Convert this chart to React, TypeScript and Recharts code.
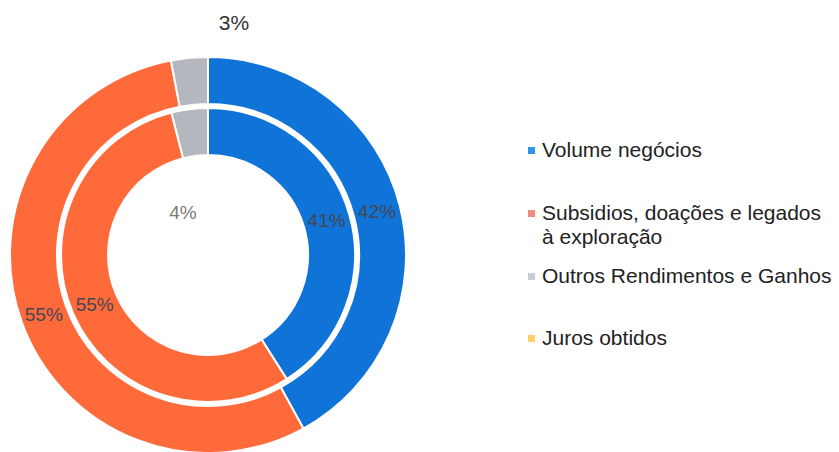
import { PieChart, Pie, Cell } from 'recharts';

const categories = ['Volume negócios', 'Subsidios, doações e legados à exploração', 'Outros Rendimentos e Ganhos', 'Juros obtidos'];
const outerValues = [42, 55, 3, 0];
const innerValues = [41, 55, 4, 0];
const legendLines = [['Volume negócios'], ['Subsidios, doações e legados', 'à exploração'], ['Outros Rendimentos e Ganhos'], ['Juros obtidos']];

const sliceColors = ['#0F73D8', '#FF6A3A', '#B5B7BE', '#FFC94F'];
const legendColors = ['#2E95E8', '#F28B82', '#C9CDD6', '#FFD268'];

const outerData = categories.map((name, i) => ({ name, value: outerValues[i] }));
const innerData = categories.map((name, i) => ({ name, value: innerValues[i] }));

const RAD = Math.PI / 180;
const FONT = '"Liberation Sans", Arial, sans-serif';

function makeLabel(ring: 'outer' | 'inner') {
    return (props: any) => {
        const { cx, cy, midAngle, innerRadius, outerRadius, value } = props;
        if (!value) return null;
        // small slices: Excel moved these labels by hand
        if (value < 5) {
            if (ring === 'outer') {
                return (
                    <text x={cx + 26} y={cy - 233} textAnchor="middle" dominantBaseline="central"
                        fontSize={21} fill="#333" fontFamily={FONT}>{`${value}%`}</text>
                );
            }
            return (
                <text x={cx - 25} y={cy - 43} textAnchor="middle" dominantBaseline="central"
                    fontSize={19} fill="#7a7a7a" fontFamily={FONT}>{`${value}%`}</text>
            );
        }
        const r = (innerRadius + outerRadius) / 2;
        const x = cx + r * Math.cos(-midAngle * RAD);
        const y = cy + r * Math.sin(-midAngle * RAD);
        return (
            <text x={x} y={y} textAnchor="middle" dominantBaseline="central"
                fontSize={19} fill="#464652" fontFamily={FONT}>{`${value}%`}</text>
        );
    };
}

export default function App() {
    return (
        <div style={{ position: 'absolute', left: 0, top: 0, width: 839, height: 452, background: '#fff', overflow: 'hidden' }}>
            <PieChart width={420} height={452} margin={{ top: 0, right: 0, bottom: 0, left: 0 }}
                style={{ position: 'absolute', left: 0, top: 0 }}>
                <Pie data={outerData} dataKey="value" cx={208} cy={255} outerRadius={198} innerRadius={151}
                    startAngle={90} endAngle={-270} stroke="#fff" strokeWidth={2}
                    label={makeLabel('outer')} labelLine={false} isAnimationActive={false}>
                    {outerData.map((d, i) => <Cell key={`o-${i}`} fill={sliceColors[i]} />)}
                </Pie>
                <Pie data={innerData} dataKey="value" cx={208} cy={255} outerRadius={147} innerRadius={100}
                    startAngle={90} endAngle={-270} stroke="#fff" strokeWidth={2}
                    label={makeLabel('inner')} labelLine={false} isAnimationActive={false}>
                    {innerData.map((d, i) => <Cell key={`i-${i}`} fill={sliceColors[i]} />)}
                </Pie>
            </PieChart>
            <div style={{ position: 'absolute', left: 528, top: 0, fontFamily: FONT, fontSize: 21, color: '#222' }}>
                {legendLines.map((lines, i) => {
                    const tops = [138, 201, 264, 326];
                    return (
                        <div key={i} style={{ position: 'absolute', top: tops[i], left: 0, whiteSpace: 'nowrap', lineHeight: '24px' }}>
                            <span style={{ position: 'absolute', left: 0, top: 9, width: 7, height: 7, background: legendColors[i] }} />
                            {lines.map((l, j) => (
                                <div key={j} style={{ marginLeft: 14 }}>{l}</div>
                            ))}
                        </div>
                    );
                })}
            </div>
        </div>
    );
}
